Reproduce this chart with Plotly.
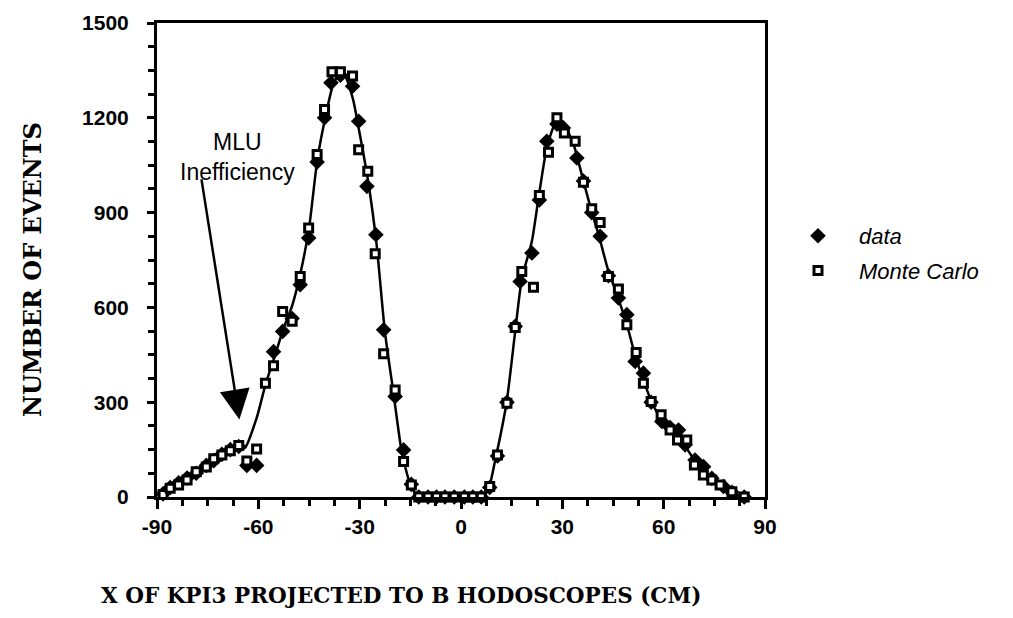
import plotly.graph_objects as go

# ---- data ----
mc_x = [-88.2, -86.1, -83.6, -81.1, -78.4, -75.4, -73.2, -70.8, -68.3, -65.8,
        -63.4, -60.5, -57.9, -55.5, -52.8, -50.0, -47.6, -45.1, -42.6, -40.4,
        -38.2, -35.7, -32.1, -30.3, -27.6, -25.4, -22.9, -19.5, -17.0, -14.7,
        -12.5, -9.75, -7.25, -4.75, -2.0, 1.0, 3.5, 6.0,
        8.5, 10.8, 13.6, 16.05, 18.0, 21.45, 23.2, 25.9, 28.4, 30.6,
        33.8, 36.25, 38.7, 41.2, 43.65, 46.6, 49.1, 51.85, 54.0, 56.3,
        59.25, 61.9, 64.1, 66.85, 69.1, 71.75, 74.25, 76.7, 80.2, 83.85]
mc_y = [8, 28, 38, 54, 80, 95, 121, 133, 146, 163,
        114, 152, 360, 415, 587, 556, 698, 851, 1084, 1226,
        1346, 1346, 1332, 1099, 1031, 770, 453, 339, 112, 38,
        0, 0, 0, 0, 0, 0, 0, 0,
        33, 133, 297, 536, 714, 664, 954, 1091, 1200, 1152,
        1126, 996, 912, 869, 698, 658, 545, 457, 360, 302,
        260, 212, 180, 180, 101, 70, 54, 38, 17, 0]

data_x = [-88.2, -86.1, -83.6, -81.1, -78.4, -75.4, -73.2, -70.8, -68.3, -65.8,
          -63.4, -60.5, -55.5, -52.8, -50.0, -47.6, -45.1, -42.6, -40.4,
          -38.5, -35.7, -32.1, -30.3, -27.85, -25.2, -22.9, -19.5, -17.0, -14.7,
          -12.5, -9.75, -7.25, -4.75, -2.0, 1.0, 3.5, 6.0,
          8.5, 10.8, 13.6, 16.05, 17.5, 21.0, 23.2, 25.4, 28.4, 30.3,
          34.3, 36.25, 38.7, 41.2, 43.65, 46.6, 49.1, 51.55, 54.0, 56.3,
          59.45, 61.9, 64.4, 66.35, 69.3, 71.8, 74.25, 77.7, 80.2, 83.85]
data_y = [10, 30, 45, 60, 75, 100, 115, 135, 150, 160,
          100, 100, 460, 524, 565, 672, 820, 1060, 1200,
          1311, 1335, 1300, 1189, 983, 830, 529, 318, 149, 40,
          0, 0, 0, 0, 0, 0, 0, 0,
          30, 130, 300, 540, 682, 772, 940, 1126, 1180, 1168,
          1073, 1000, 900, 825, 700, 630, 577, 429, 392, 300,
          239, 220, 212, 165, 117, 96, 59, 33, 15, 0]

curve_x = [-88.5, -86, -83.5, -81, -78.5, -76, -73.5, -71, -68.5, -66, -64,
           -60.5, -57.9, -55, -52.5, -50, -47.5, -45, -42.5, -40, -38, -36,
           -34.5, -32, -30, -27.5, -25, -22.5, -20, -17.5, -15, -12.5,
           6, 8, 10, 13.5, 16, 18, 21, 23, 25.5, 28, 29.5, 31, 33.5, 36,
           38.5, 41, 43.5, 46.5, 49, 51.5, 54, 56.5, 59, 62, 64.5, 67,
           69.5, 72, 74.5, 77, 80, 83, 85]
curve_y = [8, 25, 40, 57, 76, 95, 113, 130, 142, 152, 155,
           250, 355, 450, 535, 605, 710, 850, 1070, 1210, 1300, 1340,
           1335, 1260, 1150, 1000, 800, 520, 330, 140, 40, 0,
           0, 20, 110, 300, 520, 690, 810, 950, 1110, 1185, 1192, 1170, 1110, 1010,
           910, 820, 720, 630, 550, 450, 370, 300, 250, 210, 180, 150,
           110, 80, 55, 35, 15, 3, 0]

x_ticks = [-90, -60, -30, 0, 30, 60, 90]
y_ticks = [0, 300, 600, 900, 1200, 1500]

series_names = ["data", "Monte Carlo"]
y_title = "NUMBER OF EVENTS"
x_title = "X OF KPI3 PROJECTED TO B HODOSCOPES (CM)"
note_text = "MLU<br>Inefficiency"

fig = go.Figure()

fig.add_trace(go.Scatter(x=curve_x, y=curve_y, mode="lines", showlegend=False,
                         line=dict(color="black", width=2.5, shape="spline", smoothing=0.6),
                         cliponaxis=False, hoverinfo="skip"))
fig.add_trace(go.Scatter(x=data_x, y=data_y, mode="markers", name=series_names[0],
                         legendrank=1, legendgroup="a",
                         marker=dict(symbol="diamond", size=12, color="black",
                                     line=dict(width=0)),
                         cliponaxis=False))
fig.add_trace(go.Scatter(x=mc_x, y=mc_y, mode="markers", name=series_names[1],
                         legendrank=2, legendgroup="b",
                         marker=dict(symbol="square", size=8, color="white",
                                     line=dict(color="black", width=3)),
                         cliponaxis=False))

PL, PR, PT, PB = 157, 248, 23, 121
W, H = 1013, 618
pw = W - PL - PR
ph = H - PT - PB

def px_x(p):
    return (p - PL) / pw

def px_y(p):
    return (H - PB - p) / ph

axis_font = dict(family="Liberation Sans, Arial, sans-serif", size=21, color="black", weight="bold")

fig.update_layout(
    width=W, height=H,
    margin=dict(l=PL, r=PR, t=PT, b=PB, pad=0),
    paper_bgcolor="white", plot_bgcolor="white",
    showlegend=True,
    legend=dict(x=px_x(777), y=px_y(215), xanchor="left", yanchor="top",
                font=dict(family="Liberation Sans, Arial, sans-serif", size=22,
                          color="black", style="italic"),
                itemwidth=72, tracegroupgap=3, bgcolor="rgba(0,0,0,0)"),
    xaxis=dict(range=[-90, 90], tickmode="array", tickvals=x_ticks,
               ticktext=[str(v) for v in x_ticks],
               showgrid=False, zeroline=False, showline=True, linecolor="black",
               linewidth=3, mirror=True, ticks="outside", ticklen=9, tickwidth=3,
               tickcolor="black", tickfont=axis_font,
               minor=dict(dtick=7.5, tick0=-90, ticks="outside", ticklen=6,
                          tickwidth=2.5, tickcolor="black", showgrid=False)),
    yaxis=dict(range=[0, 1500], tickmode="array", tickvals=y_ticks,
               ticktext=[str(v) for v in y_ticks],
               showgrid=False, zeroline=False, showline=True, linecolor="black",
               linewidth=3, mirror=True, ticks="outside", ticklen=7, tickwidth=2.5,
               tickcolor="black", tickfont=axis_font, ticklabelstandoff=14,
               minor=dict(dtick=75, tick0=0, ticks="outside", ticklen=6,
                          tickwidth=2.5, tickcolor="black", showgrid=False)),
)

fig.add_annotation(text=y_title, xref="paper", yref="paper",
                   x=px_x(32), y=px_y(270), textangle=-90, showarrow=False,
                   font=dict(family="DejaVu Serif", size=24, color="black", weight="bold"),
                   xanchor="center", yanchor="middle")
fig.add_annotation(text=x_title, xref="paper", yref="paper",
                   x=px_x(401), y=px_y(595), showarrow=False,
                   font=dict(family="DejaVu Serif", size=21.5, color="black", weight="bold"),
                   xanchor="center", yanchor="middle")
fig.add_annotation(text=note_text, xref="paper", yref="paper",
                   x=px_x(237), y=px_y(157), showarrow=False,
                   font=dict(family="Liberation Sans, Arial, sans-serif", size=23, color="black"),
                   xanchor="center", yanchor="middle")
# arrow from the note down to the inefficiency dip
fig.add_annotation(text="", x=-65.6, y=245, xref="x", yref="y",
                   ax=-76.9, ay=1010, axref="x", ayref="y",
                   showarrow=True, arrowhead=2, arrowsize=2.4, arrowwidth=2.5,
                   arrowcolor="black")

fig.write_html("out.html")
